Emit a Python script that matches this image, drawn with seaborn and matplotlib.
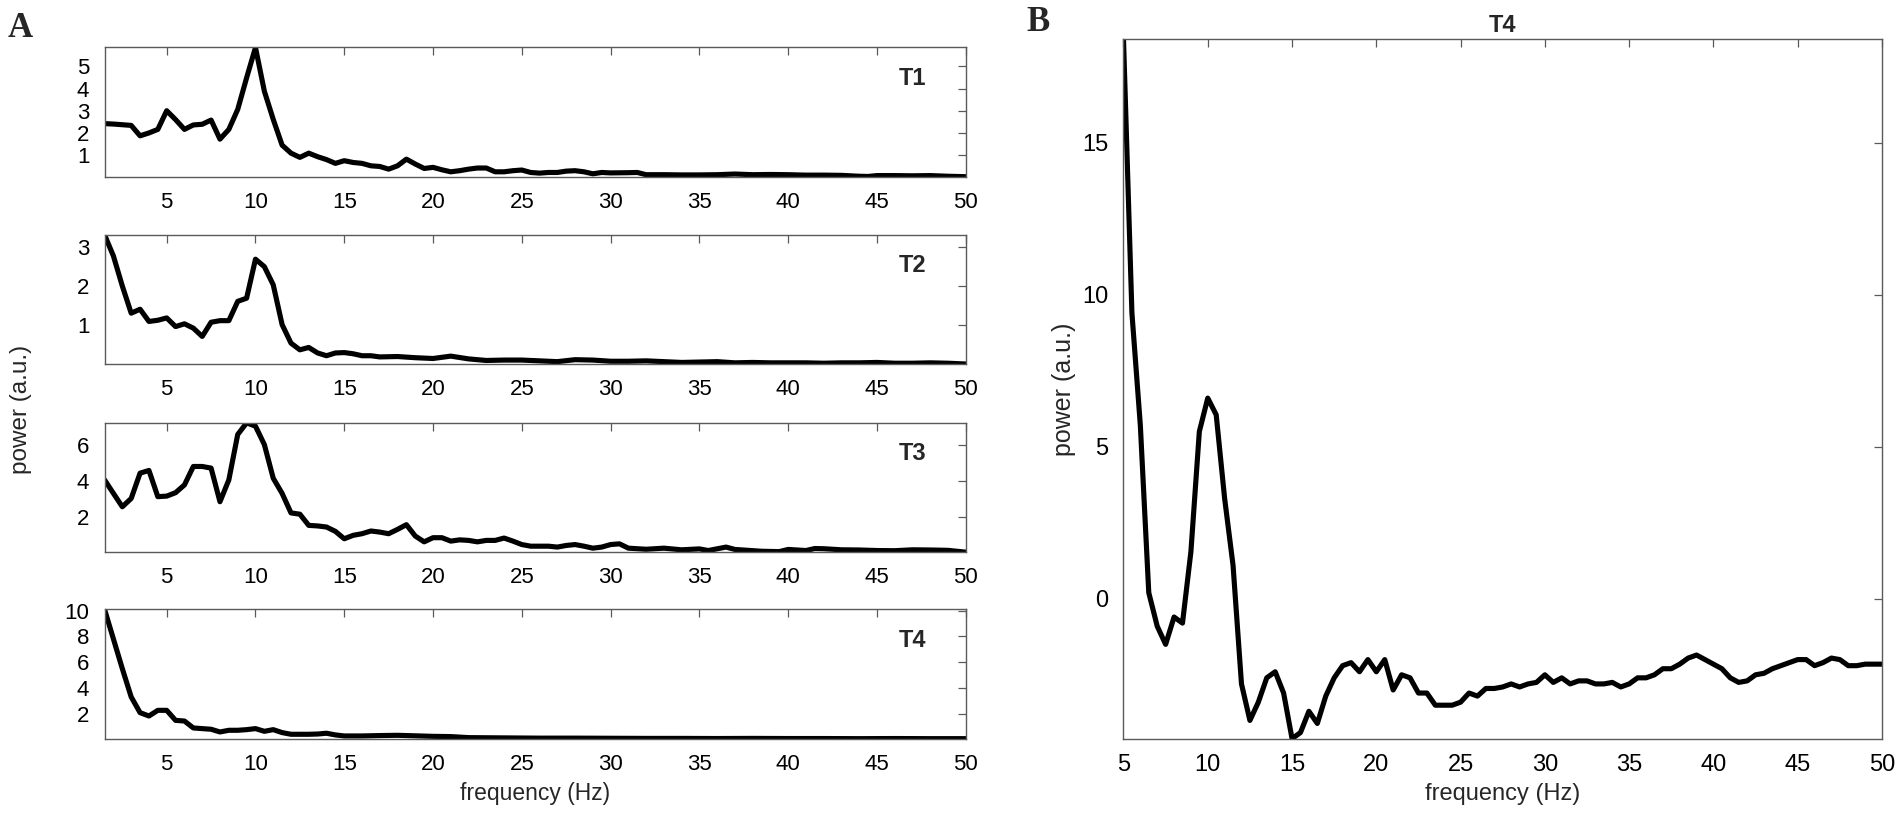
import numpy as np
import pandas as pd
import matplotlib
matplotlib.use("Agg")
import matplotlib.pyplot as plt
import seaborn as sns

# ---------------- data ----------------
t1_freq = [1.5, 2, 2.5, 3, 3.5, 4, 4.5, 5, 5.5, 6, 6.5, 7, 7.5, 8, 8.5, 9, 9.5, 10,
           10.5, 11, 11.5, 12, 12.5, 13, 13.5, 14, 14.5, 15, 15.5, 16, 16.5, 17,
           17.5, 18, 18.5, 19, 19.5, 20, 20.5, 21, 21.5, 22, 22.5, 23, 23.5, 24,
           24.5, 25, 25.5, 26, 26.5, 27, 27.5, 28, 28.5, 29, 29.5, 30, 31, 31.5,
           32, 33, 34, 35, 36, 37, 38, 39, 40, 41, 42, 43, 44, 44.5, 45, 46, 47,
           48, 49, 50]
t1_pow = [2.42, 2.40, 2.37, 2.34, 1.87, 2.0, 2.16, 3.0, 2.6, 2.16, 2.36, 2.39, 2.58,
          1.72, 2.16, 3.06, 4.48, 5.85, 3.88, 2.61, 1.45, 1.09, 0.9, 1.09, 0.93, 0.8,
          0.63, 0.75, 0.67, 0.63, 0.52, 0.49, 0.37, 0.52, 0.82, 0.6, 0.4, 0.45, 0.34,
          0.25, 0.3, 0.37, 0.42, 0.42, 0.25, 0.25, 0.3, 0.33, 0.22, 0.19, 0.22, 0.22,
          0.28, 0.3, 0.25, 0.16, 0.22, 0.2, 0.21, 0.22, 0.12, 0.12, 0.11, 0.11, 0.12,
          0.15, 0.12, 0.13, 0.12, 0.1, 0.1, 0.09, 0.05, 0.04, 0.08, 0.08, 0.07, 0.08,
          0.05, 0.03]

t2_freq = [1.5, 2, 2.5, 3, 3.5, 4, 4.5, 5, 5.5, 6, 6.5, 7, 7.5, 8, 8.5, 9, 9.5, 10,
           10.5, 11, 11.5, 12, 12.5, 13, 13.5, 14, 14.5, 15, 15.5, 16, 16.5, 17, 18,
           19, 20, 21, 22, 23, 24, 25, 26, 27, 28, 29, 30, 31, 32, 33, 34, 35, 36,
           37, 38, 39, 40, 41, 42, 43, 44, 45, 46, 47, 48, 49, 50]
t2_pow = [3.3, 2.76, 2.0, 1.31, 1.41, 1.1, 1.13, 1.19, 0.97, 1.04, 0.93, 0.72, 1.08,
          1.12, 1.12, 1.61, 1.69, 2.68, 2.49, 2.03, 1.02, 0.55, 0.38, 0.44, 0.3, 0.23,
          0.3, 0.31, 0.28, 0.23, 0.23, 0.2, 0.21, 0.18, 0.16, 0.22, 0.15, 0.11, 0.12,
          0.12, 0.1, 0.08, 0.13, 0.12, 0.09, 0.09, 0.1, 0.08, 0.06, 0.07, 0.08, 0.05,
          0.06, 0.05, 0.05, 0.05, 0.04, 0.05, 0.05, 0.06, 0.04, 0.04, 0.05, 0.04, 0.02]

t3_freq = [1.5, 2, 2.5, 3, 3.5, 4, 4.5, 5, 5.5, 6, 6.5, 7, 7.5, 8, 8.5, 9, 9.5, 10,
           10.5, 11, 11.5, 12, 12.5, 13, 13.5, 14, 14.5, 15, 15.5, 16, 16.5, 17, 17.5,
           18, 18.5, 19, 19.5, 20, 20.5, 21, 21.5, 22, 22.5, 23, 23.5, 24, 24.5, 25,
           25.5, 26, 26.5, 27, 27.5, 28, 28.5, 29, 29.5, 30, 30.5, 31, 32, 33, 34, 35,
           35.5, 36.5, 37, 38.5, 39.5, 40, 41, 41.5, 42, 43, 44, 45, 46, 47, 48, 49, 50]
t3_pow = [4.05, 3.3, 2.56, 3.02, 4.42, 4.57, 3.12, 3.15, 3.34, 3.77, 4.79, 4.79, 4.7,
          2.84, 4.05, 6.56, 7.2, 7.02, 6.0, 4.14, 3.3, 2.22, 2.15, 1.53, 1.5, 1.44,
          1.2, 0.79, 0.98, 1.07, 1.22, 1.16, 1.07, 1.31, 1.57, 0.94, 0.62, 0.85, 0.85,
          0.66, 0.73, 0.7, 0.62, 0.7, 0.7, 0.83, 0.66, 0.47, 0.38, 0.38, 0.38, 0.33,
          0.42, 0.47, 0.38, 0.27, 0.33, 0.47, 0.51, 0.27, 0.21, 0.27, 0.18, 0.23, 0.14,
          0.33, 0.2, 0.1, 0.08, 0.2, 0.14, 0.25, 0.24, 0.18, 0.17, 0.14, 0.13, 0.18,
          0.17, 0.15, 0.05]

t4_freq = [1.5, 2, 2.5, 3, 3.5, 4, 4.5, 5, 5.5, 6, 6.5, 7, 7.5, 8, 8.5, 9, 9.5, 10,
           10.5, 11, 11.5, 12, 13, 13.5, 14, 14.5, 15, 16, 17, 18, 19, 20, 21, 22, 23,
           24, 26, 28, 30, 32, 34, 36, 38, 40, 42, 44, 46, 48, 50]
t4_pow = [10.1, 7.8, 5.5, 3.3, 2.08, 1.82, 2.26, 2.26, 1.48, 1.43, 0.89, 0.84, 0.79,
          0.58, 0.71, 0.71, 0.76, 0.84, 0.63, 0.76, 0.53, 0.4, 0.4, 0.42, 0.48, 0.35,
          0.27, 0.27, 0.3, 0.32, 0.28, 0.24, 0.22, 0.14, 0.13, 0.12, 0.1, 0.1, 0.09,
          0.08, 0.08, 0.07, 0.08, 0.07, 0.07, 0.06, 0.07, 0.06, 0.06]

b_freq = [5, 5.5, 6, 6.5, 7, 7.5, 8, 8.5, 9, 9.5, 10, 10.5, 11, 11.5, 12, 12.5, 13,
          13.5, 14, 14.5, 15, 15.5, 16, 16.5, 17, 17.5, 18, 18.5, 19, 19.5, 20, 20.5,
          21, 21.5, 22, 22.5, 23, 23.5, 24, 24.5, 25, 25.5, 26, 26.5, 27, 27.5, 28,
          28.5, 29, 29.5, 30, 30.5, 31, 31.5, 32, 32.5, 33, 33.5, 34, 34.5, 35, 35.5,
          36, 36.5, 37, 37.5, 38, 38.5, 39, 39.5, 40, 40.5, 41, 41.5, 42, 42.5, 43,
          43.5, 44, 44.5, 45, 45.5, 46, 46.5, 47, 47.5, 48, 48.5, 49, 49.5, 50]
b_pow = [18.4, 9.4, 5.7, 0.2, -0.9, -1.5, -0.6, -0.8, 1.55, 5.5, 6.6, 6.05, 3.3, 1.1,
         -2.8, -4.0, -3.4, -2.6, -2.4, -3.1, -4.6, -4.4, -3.7, -4.1, -3.2, -2.6, -2.2,
         -2.1, -2.4, -2.0, -2.4, -2.0, -3.0, -2.5, -2.6, -3.1, -3.1, -3.5, -3.5, -3.5,
         -3.4, -3.1, -3.2, -2.95, -2.95, -2.9, -2.8, -2.9, -2.8, -2.75, -2.5, -2.75,
         -2.6, -2.8, -2.7, -2.7, -2.8, -2.8, -2.75, -2.9, -2.8, -2.6, -2.6, -2.5, -2.3,
         -2.3, -2.15, -1.95, -1.85, -2.0, -2.15, -2.3, -2.6, -2.75, -2.7, -2.5, -2.45,
         -2.3, -2.2, -2.1, -2.0, -2.0, -2.2, -2.1, -1.95, -2.0, -2.2, -2.2, -2.15,
         -2.15, -2.15]

a_labels = ["T1", "T2", "T3", "T4"]
a_yticks = [[1, 2, 3, 4, 5], [1, 2, 3], [2, 4, 6], [2, 4, 6, 8, 10]]
x_ticks = [5, 10, 15, 20, 25, 30, 35, 40, 45, 50]
b_yticks = [0, 5, 10, 15]

# ---------------- style ----------------
sns.set_style("white")
plt.rcParams["font.family"] = ["Liberation Sans", "DejaVu Sans"]

W, H = 1901, 818
fig = plt.figure(figsize=(W / 100, H / 100), dpi=100)
fig.patch.set_facecolor("white")

FRAME = "#5a5a5a"
LW = 3.7


def style_axis(ax, fs):
    for s in ax.spines.values():
        s.set_color(FRAME)
        s.set_linewidth(1.0)
        s.set_visible(True)
    ax.tick_params(direction="in", top=True, right=True, length=6, width=0.9,
                   color=FRAME, labelsize=fs, labelcolor="black", pad=11)
    ax.set_xlabel("")
    ax.set_ylabel("")


series = [(t1_freq, t1_pow), (t2_freq, t2_pow), (t3_freq, t3_pow), (t4_freq, t4_pow)]
a_left, a_width = 0.055, 0.453
a_bottoms = [0.784, 0.555, 0.325, 0.097]
a_height = 0.158

axes_a = []
for i, ((fr, pw), lab) in enumerate(zip(series, a_labels)):
    ax = fig.add_axes([a_left, a_bottoms[i], a_width, a_height])
    df = pd.DataFrame({"freq": fr, "power": pw})
    sns.lineplot(data=df, x="freq", y="power", ax=ax, color="black", linewidth=LW,
                 estimator=None, sort=False)
    ax.set_xlim(1.5, 50)
    ax.set_ylim(min(pw), max(pw))
    ax.set_xticks(x_ticks)
    ax.set_yticks(a_yticks[i])
    style_axis(ax, 16)
    ax.text(0.938, 0.76, lab, transform=ax.transAxes, ha="center", va="center",
            fontsize=17, fontweight="bold")
    axes_a.append(ax)

axes_a[-1].set_xlabel("frequency (Hz)", fontsize=16.5, labelpad=5)
fig.text(0.011, 0.50, "power (a.u.)", rotation=90, ha="center", va="center",
         fontsize=17.5)

# panel B
axb = fig.add_axes([0.591, 0.097, 0.399, 0.855])
dfb = pd.DataFrame({"freq": b_freq, "power": b_pow})
sns.lineplot(data=dfb, x="freq", y="power", ax=axb, color="black", linewidth=LW,
             estimator=None, sort=False)
axb.set_xlim(5, 50)
axb.set_ylim(min(b_pow), max(b_pow))
axb.set_xticks(x_ticks)
axb.set_yticks(b_yticks)
style_axis(axb, 17)
axb.set_xlabel("frequency (Hz)", fontsize=17, labelpad=5)
axb.set_ylabel("power (a.u.)", fontsize=18, labelpad=4)
axb.set_title("T4", fontsize=17, fontweight="bold", pad=5)

fig.text(0.004, 0.965, "A", fontsize=25, fontweight="bold",
         family=["Liberation Serif", "DejaVu Serif"], ha="left", va="center")
fig.text(0.540, 0.972, "B", fontsize=25, fontweight="bold",
         family=["Liberation Serif", "DejaVu Serif"], ha="left", va="center")

fig.savefig("out.png", dpi=100, facecolor="white")
